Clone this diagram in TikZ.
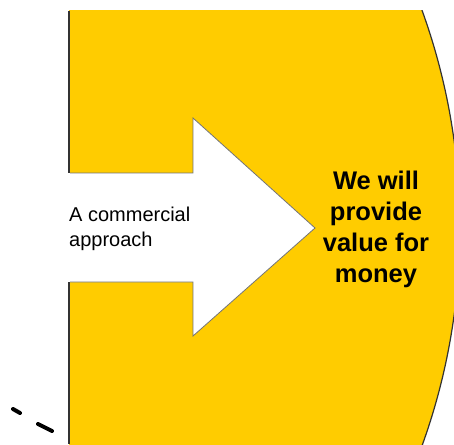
\documentclass[tikz,border=0pt]{standalone}
\usepackage{fontspec}
\setmainfont{Liberation Sans}
\definecolor{gold}{RGB}{255,204,0}
\begin{document}
\begin{tikzpicture}[x=1pt,y=-1pt,
  edge/.style={draw=black!80,line width=1.2pt},
  thinedge/.style={draw=black!55,line width=0.8pt},
  dashmark/.style={draw=black,line width=4pt,line cap=round}]
\useasboundingbox (0,0) rectangle (454,444);
% yellow body with curved right side
\begin{scope}
  \clip (69,11) rectangle (454,444);
  \path[fill=gold,edge] (-180,228) circle (640);
\end{scope}
% white arrow cut into the body
\path[fill=white,thinedge] (69,173) -- (193,173) -- (193,118) -- (315,228)
  -- (193,336) -- (193,282) -- (69,282);
\path[fill=white] (69,173) rectangle (69.6,282);
% left edge
\draw[edge] (69,11) -- (69,173);
\draw[edge] (69,282) -- (69,444);
% texts
\node (src) [anchor=north west,align=left,inner sep=0pt,
  font=\fontsize{20}{25}\selectfont] at (69,207) {A commercial\\approach};
\node (goal) [align=center,inner sep=0pt,
  font=\bfseries\fontsize{25.5}{31}\selectfont] at (376,229) {We will\\provide\\value for\\money};
% dashes at bottom left
\draw[dashmark] (13,409) -- (20,413);
\draw[dashmark] (38,424) -- (52,431);
\end{tikzpicture}
\end{document}
